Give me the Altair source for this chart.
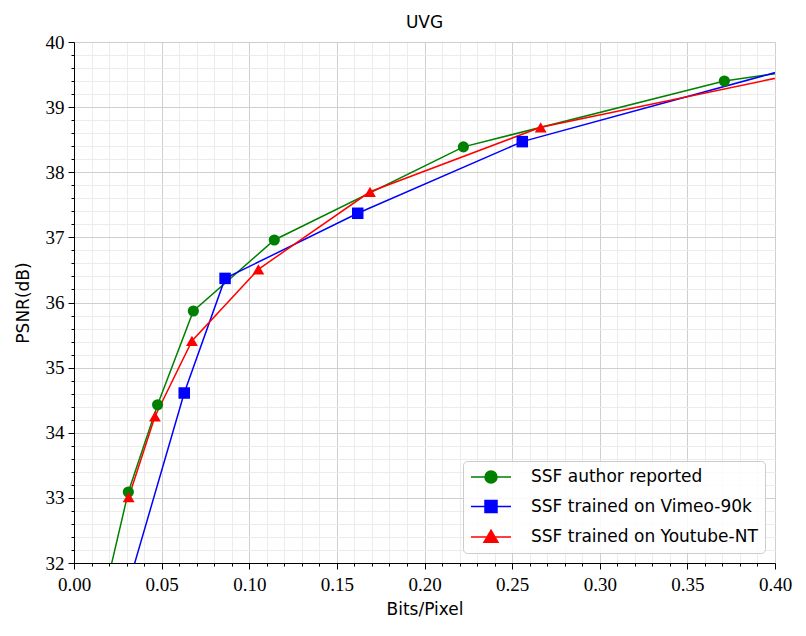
import altair as alt
import pandas as pd

series_names = ["SSF author reported", "SSF trained on Vimeo-90k", "SSF trained on Youtube-NT"]
series_colors = ["#008000", "#0000ff", "#ff0000"]
series_shapes = ["circle", "square", "triangle-up"]
series_sizes = [125, 140, 150]

# values (first/last points lie outside the visible axes and are clipped)
author_bpp = [0.0172, 0.0310, 0.0477, 0.0681, 0.1143, 0.2222, 0.3711, 0.4300]
author_psnr = [31.50, 33.09, 34.43, 35.87, 36.96, 38.39, 39.40, 39.63]

vimeo_bpp = [0.0300, 0.0629, 0.0862, 0.1619, 0.2558, 0.4300]
vimeo_psnr = [31.57, 34.61, 36.37, 37.37, 38.47, 39.75]

youtube_bpp = [0.0312, 0.0462, 0.0673, 0.1052, 0.1689, 0.2663, 0.4300]
youtube_psnr = [33.01, 34.25, 35.41, 36.51, 37.70, 38.69, 39.61]

x_ticks = [round(i * 0.01, 2) for i in range(41)]
y_ticks = [round(32 + i * 0.2, 1) for i in range(41)]

rows = []
for name, xs, ys in zip(series_names, [author_bpp, vimeo_bpp, youtube_bpp],
                        [author_psnr, vimeo_psnr, youtube_psnr]):
    for i, (xv, yv) in enumerate(zip(xs, ys)):
        rows.append({"series": name, "bpp": xv, "psnr": yv, "order": i})
df = pd.DataFrame(rows)

MAJX = "abs(datum.value*20 - round(datum.value*20)) < 0.001"
MAJY = "abs(datum.value - round(datum.value)) < 0.001"
SERIF = "'Liberation Serif', 'Times New Roman', serif"
SANS = "'DejaVu Sans', sans-serif"

x_axis = alt.Axis(
    values=x_ticks, title="Bits/Pixel",
    labelExpr=MAJX + " ? format(datum.value, '.2f') : ''",
    labelFont=SERIF, labelFontSize=19, labelColor="black",
    labelFlush=False, labelOverlap=False, labelPadding=6,
    tickColor="black", tickWidth=1,
    tickSize={"condition": {"test": MAJX, "value": 6}, "value": 3},
    gridColor={"condition": {"test": MAJX, "value": "#cfcfcf"}, "value": "#ececec"},
    gridWidth=1, domainColor="black",
    titleFont=SANS, titleFontSize=17, titleFontWeight="normal",
    titleColor="black", titlePadding=7,
)
y_axis = alt.Axis(
    values=y_ticks, title="PSNR(dB)",
    labelExpr=MAJY + " ? format(datum.value, 'd') : ''",
    labelFont=SERIF, labelFontSize=19, labelColor="black",
    labelFlush=False, labelOverlap=False, labelPadding=4,
    tickColor="black", tickWidth=1,
    tickSize={"condition": {"test": MAJY, "value": 6}, "value": 3},
    gridColor={"condition": {"test": MAJY, "value": "#cfcfcf"}, "value": "#ececec"},
    gridWidth=1, domainColor="black",
    titleFont=SANS, titleFontSize=17, titleFontWeight="normal",
    titleColor="black", titlePadding=13,
)

x_enc = alt.X("bpp:Q", scale=alt.Scale(domain=[0, 0.4], nice=False, zero=False), axis=x_axis)
y_enc = alt.Y("psnr:Q", scale=alt.Scale(domain=[32, 40], nice=False, zero=False), axis=y_axis)
color_enc = alt.Color("series:N", scale=alt.Scale(domain=series_names, range=series_colors), legend=None)

base = alt.Chart(df)

lines = base.mark_line(strokeWidth=1.5, clip=True).encode(
    x=x_enc, y=y_enc, color=color_enc, order="order:Q"
)

points = base.mark_point(filled=True, opacity=1, clip=True).encode(
    x=x_enc, y=y_enc, color=color_enc,
    shape=alt.Shape("series:N", scale=alt.Scale(domain=series_names, range=series_shapes), legend=None),
    size=alt.Size("series:N", scale=alt.Scale(domain=series_names, range=series_sizes), legend=None),
)

# legend symbols: line + marker (unit = 8px with symbolSize 256)
legend_paths = [
    "M-1,0L4,0M2.25,0A0.75,0.75,0,1,1,0.75,0A0.75,0.75,0,1,1,2.25,0Z",
    "M-1,0L4,0M0.75,-0.75L2.25,-0.75L2.25,0.75L0.75,0.75Z",
    "M-1,0L4,0M1.5,-0.85L2.375,0.65L0.625,0.65Z",
]
leg = alt.Legend(
    title=None, orient="bottom-right", offset=10, padding=7,
    fillColor="rgba(255,255,255,0.85)", strokeColor="#cccccc", cornerRadius=4,
    symbolSize=256, symbolStrokeWidth=1.5, labelFont=SANS, labelFontSize=17,
    labelColor="black", labelOffset=43, rowPadding=11.5, labelLimit=400,
)
legend_layer = base.transform_filter("false").mark_point(filled=True, strokeWidth=1.5, opacity=1).encode(
    x=x_enc, y=y_enc,
    fill=alt.Fill("series:N", scale=alt.Scale(domain=series_names, range=series_colors), legend=leg),
    stroke=alt.Stroke("series:N", scale=alt.Scale(domain=series_names, range=series_colors), legend=leg),
    shape=alt.Shape("series:N", scale=alt.Scale(domain=series_names, range=legend_paths), legend=leg),
)

chart = alt.layer(lines, points, legend_layer).resolve_scale(
    shape="independent", fill="independent", stroke="independent"
).properties(
    width=701, height=521,
    padding={"left": 66, "top": 34, "right": 23, "bottom": 57},
    autosize=alt.AutoSizeParams(type="none"),
    title=alt.Title("UVG", font=SANS, fontSize=17, fontWeight="normal",
                    color="black", anchor="middle", offset=1, frame="group"),
).configure_view(stroke="black", strokeWidth=1.2).configure(background="white")

chart.save("out.html", embed_options={"renderer": "svg", "actions": False})
